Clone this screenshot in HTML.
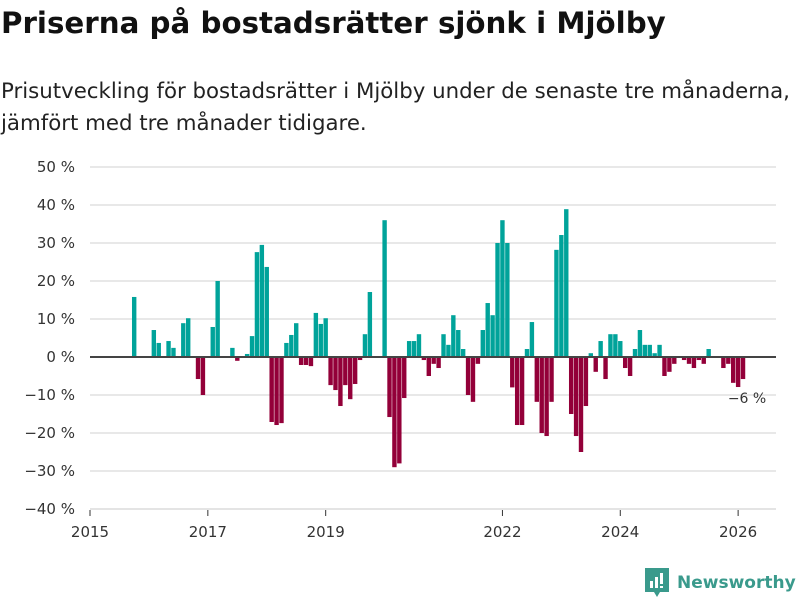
<!DOCTYPE html>
<html><head><meta charset="utf-8"><style>
body{margin:0;background:#fff;width:800px;height:600px;overflow:hidden;font-family:"DejaVu Sans",sans-serif}
#title{position:absolute;left:1px;top:6px;font-size:29.3px;font-weight:bold;color:#111;white-space:nowrap}
#sub{position:absolute;left:1px;top:76px;font-size:21.3px;line-height:32px;color:#222;white-space:nowrap}
#logo{position:absolute;left:645px;top:568px;display:flex;align-items:center;gap:8px;color:#3a9a8c;font-size:17px;font-weight:bold}
</style></head><body>
<div id="title">Priserna på bostadsrätter sjönk i Mjölby</div>
<div id="sub">Prisutveckling för bostadsrätter i Mjölby under de senaste tre månaderna,<br>jämfört med tre månader tidigare.</div>
<svg id="chart" width="800" height="600" style="position:absolute;left:0;top:0"></svg>
<div id="logo"><svg width="24" height="30" viewBox="0 0 24 30"><path d="M0 0H24V24H15L12 29L9 24H0Z" fill="#3a9a8c"/><rect x="5" y="13" width="3" height="7" fill="#fff"/><rect x="10" y="9" width="3" height="11" fill="#fff"/><rect x="15" y="5" width="3" height="11" fill="#fff"/><rect x="15" y="18" width="3" height="2" fill="#fff"/></svg><span>Newsworthy</span></div>
<script>
const startMonth = 9; // Oct 2015, months since Jan 2015
const values = [15.8,null,null,null,7.1,3.7,null,4.2,2.4,null,8.9,10.2,null,-5.8,-10,null,7.9,20,null,null,2.4,-1,null,0.8,5.5,27.6,29.5,23.7,-17.1,-17.9,-17.4,3.7,5.8,8.9,-2.1,-2.1,-2.4,11.6,8.7,10.2,-7.4,-8.7,-12.9,-7.4,-11.1,-7.1,-0.8,6,17.1,null,null,36,-15.8,-29,-28,-10.8,4.2,4.2,6,-0.8,-5,-1.8,-2.9,6,3.2,11,7.1,2.1,-10,-11.8,-1.8,7.1,14.2,11,30,36,30,-8,-17.9,-17.9,2.1,9.2,-11.8,-20,-20.8,-11.8,28.2,32.1,38.9,-15,-20.8,-25,-12.9,1,-3.9,4.2,-5.8,6,6,4.2,-2.9,-5,2.1,7.1,3.2,3.2,1,3.2,-5,-3.9,-1.8,null,-0.8,-1.8,-2.9,-0.8,-1.8,2.1,null,null,-2.9,-1.8,-6.8,-7.9,-5.8];
const yTicks = [50,40,30,20,10,0,-10,-20,-30,-40];
const xTickYears = [2015,2017,2019,2022,2024,2026];
const lastLabel = "−6 %";
const NS='http://www.w3.org/2000/svg';
const svg=document.getElementById('chart');
const y=v=>357-v*3.8;
const x=m=>90+m*4.91;
const FF='DejaVu Sans,sans-serif';
function mk(t,a){const e=document.createElementNS(NS,t);for(const k in a)e.setAttribute(k,a[k]);svg.appendChild(e);return e;}
yTicks.forEach(t=>{
  const g=mk('line',{x1:90,x2:776,y1:y(t),y2:y(t),stroke:'#e0e0e0','stroke-width':1.5});
  
  
  const l=mk('text',{x:75,y:y(t)+5,'text-anchor':'end','font-size':15,fill:'#333','font-family':FF});
  l.textContent=(t<0?'−'+(-t):t)+' %';
  
  
});
values.forEach((v,i)=>{
  if(v===null)return;
  const cx=x(startMonth+i);
  const r=mk('rect',{x:cx-2.2,width:4.4,y:Math.min(y(v),y(0)),height:Math.abs(y(v)-y(0)),fill:v>=0?'#00a39a':'#930039'});
  
  
});
const z=mk('line',{x1:90,x2:776,y1:y(0),y2:y(0),stroke:'#444','stroke-width':2});


const ax=mk('line',{x1:90,x2:776,y1:509,y2:509,stroke:'#e0e0e0','stroke-width':1.5});


xTickYears.forEach(yr=>{
  const px=x((yr-2015)*12);
  const t=mk('line',{x1:px,x2:px,y1:510,y2:516,stroke:'#333','stroke-width':1});
  
  
  const l=mk('text',{x:px,y:537,'text-anchor':'middle','font-size':15,fill:'#333','font-family':FF});
  l.textContent=yr;
  
  
});
const ll=mk('text',{x:x(startMonth+values.length-1)+4,y:y(values[values.length-1])+24,'text-anchor':'middle','font-size':14,fill:'#333','font-family':FF});
ll.textContent=lastLabel;


</script>
</body></html>
